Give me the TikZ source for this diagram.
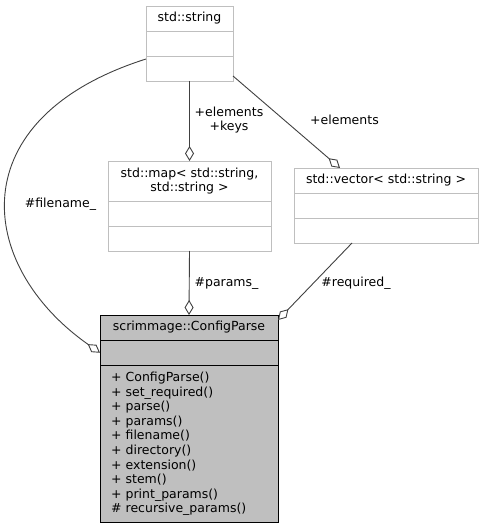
\documentclass[tikz,border=0pt]{standalone}
\usepackage{fontspec}
\setmainfont{DejaVu Sans}
\usetikzlibrary{positioning}
\usetikzlibrary{arrows.meta}
\definecolor{boxgray}{HTML}{BFBFBF}
\definecolor{edgegray}{HTML}{404040}
\tikzset{
  classhead/.style={rectangle,draw=boxgray,fill=white,outer sep=0pt,
                    inner sep=0pt,minimum height=25pt,align=center,
                    font=\fontsize{12.5}{14.6}\selectfont},
  classpart/.style={rectangle,draw=boxgray,fill=white,outer sep=0pt,
                    minimum height=25pt},
  current/.style={draw=black,fill=boxgray},
  aggr/.style={draw=edgegray,line width=0.9pt,
               -{Diamond[open,length=15pt,width=9pt]}},
  edgelabel/.style={align=center,inner sep=0pt,
                    font=\fontsize{12.5}{14.6}\selectfont},
}

\begin{document}
\begin{tikzpicture}[x=1pt,y=-1pt]
    \useasboundingbox (0,0) rectangle (484,529);

    % Classes
    \node[classhead,minimum width=87pt] (str) at (189.5,18.5) {std::string};
    \node[classpart,minimum width=87pt,below=0pt of str] (str attr) {};
    \node[classpart,minimum width=87pt,below=0pt of str attr] (str ops) {};

    \node[classhead,minimum width=163pt,minimum height=40pt] (map) at (189.5,181)
        {std::map< std::string,\\std::string >};
    \node[classpart,minimum width=163pt,below=0pt of map] (map attr) {};
    \node[classpart,minimum width=163pt,below=0pt of map attr] (map ops) {};

    \node[classhead,minimum width=184pt] (vec) at (386,180.5)
        {std::vector< std::string >};
    \node[classpart,minimum width=184pt,below=0pt of vec] (vec attr) {};
    \node[classpart,minimum width=184pt,below=0pt of vec attr] (vec ops) {};

    \node[classhead,current,minimum width=178pt] (cp) at (189,327.5)
        {scrimmage::ConfigParse};
    \node[classpart,current,minimum width=178pt,minimum height=25.5pt,
          below=0pt of cp] (cp attr) {};
    \node[classpart,current,minimum width=178pt,minimum height=157pt,
          text width=156pt,inner xsep=11pt,align=left,
          font=\fontsize{12.5}{14.6}\selectfont,below=0pt of cp attr] (cp ops)
        {+ ConfigParse()\\+ set\_required()\\+ parse()\\+ params()\\
         + filename()\\+ directory()\\+ extension()\\+ stem()\\
         + print\_params()\\\# recursive\_params()};

    % Aggregations
    \draw[aggr] (str ops.south) -- (map.north);
    \draw[aggr] ([yshift=-7.5pt]str ops.east) -- ([xshift=-46pt]vec.north);
    \draw[aggr] (map ops.south) -- (cp.north);
    \draw[aggr] ([xshift=-34pt]vec ops.south) -- ([yshift=-5pt]cp.north east);
    \draw[aggr] ([yshift=9.5pt]str ops.west)
        .. controls (-40,118) and (-25,265) .. (cp attr.west);

    % Member names
    \node[edgelabel] (lbl keys)     at (229,120)   {+elements\\+keys};
    \node[edgelabel] (lbl elements) at (344.5,120) {+elements};
    \node[edgelabel] (lbl params)   at (226.5,283) {\#params\_};
    \node[edgelabel] (lbl required) at (356,283)   {\#required\_};
    \node[edgelabel] (lbl filename) at (60.5,204)  {\#filename\_};
\end{tikzpicture}
\end{document}
